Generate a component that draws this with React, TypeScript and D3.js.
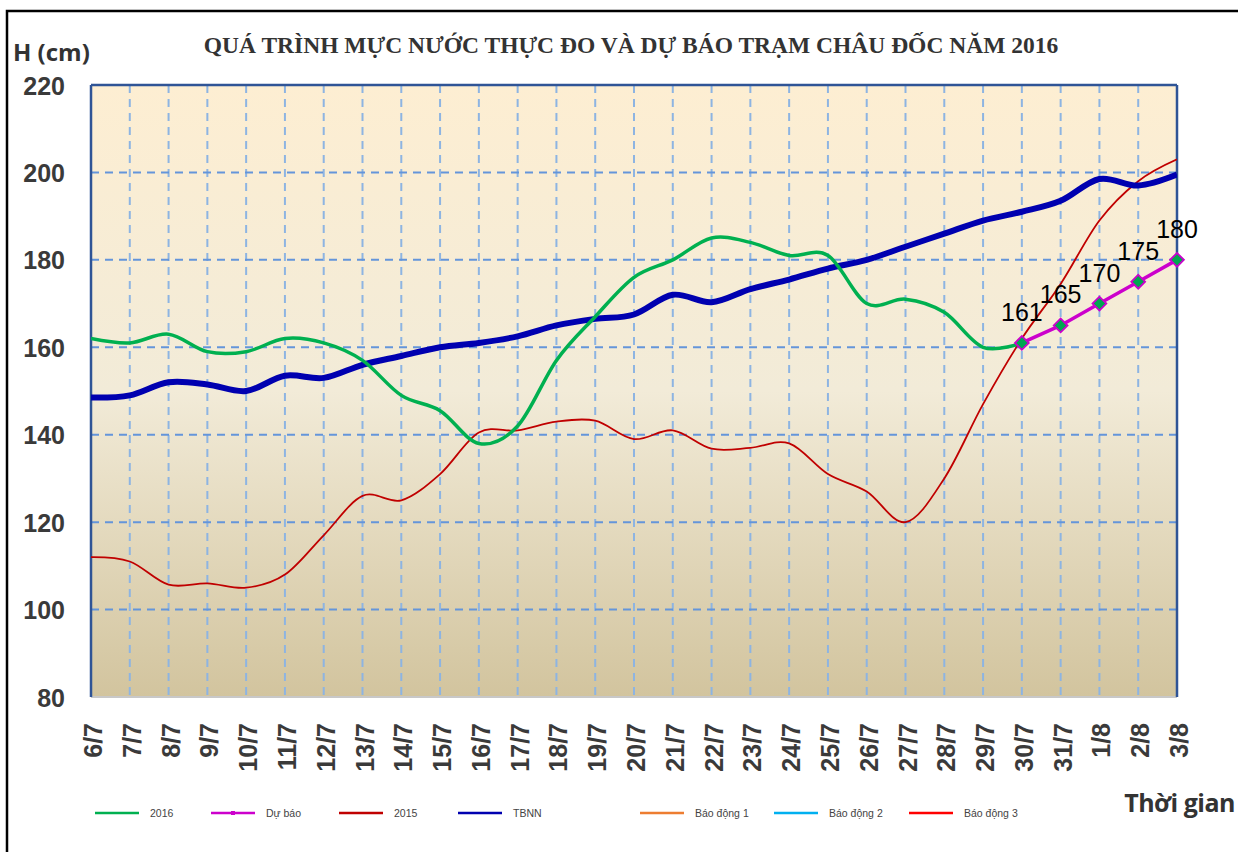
import React from "react"
import * as d3 from "d3"

// dates on the x axis
const dates = [
  "6/7", "7/7", "8/7", "9/7", "10/7", "11/7", "12/7", "13/7", "14/7", "15/7",
  "16/7", "17/7", "18/7", "19/7", "20/7", "21/7", "22/7", "23/7", "24/7", "25/7",
  "26/7", "27/7", "28/7", "29/7", "30/7", "31/7", "1/8", "2/8", "3/8",
]

// measured 2016 (6/7 .. 30/7)
const obs2016 = [
  162, 161, 163, 159, 159, 162, 161, 157, 149, 145.5,
  138, 142, 157, 167, 176, 180, 185, 184, 181, 181,
  170, 171, 168, 160, 161,
]

// forecast (30/7 .. 3/8)
const forecastDates = ["30/7", "31/7", "1/8", "2/8", "3/8"]
const forecast = [161, 165, 170, 175, 180]

const obs2015 = [
  112, 111, 105.7, 106, 105, 108, 117, 126, 125, 131,
  140.5, 141, 143, 143.2, 139, 141, 136.8, 137, 138, 131,
  127, 120, 130, 147, 162, 174.5, 189, 198, 203,
]

// TBNN (multi-year average)
const tbnn = [
  148.5, 149, 152, 151.5, 150, 153.5, 153, 156, 158, 160,
  161, 162.5, 165, 166.5, 167.5, 172, 170.3, 173.3, 175.5, 178,
  180, 183, 186, 189, 191, 193.5, 198.5, 197, 199.5,
]

const yTicks = [80, 100, 120, 140, 160, 180, 200, 220]

const legendNames = ["2016", "Dự báo", "2015", "TBNN", "Báo động 1", "Báo động 2", "Báo động 3"]
const legendColors = ["#00B050", "#CC00CC", "#C00000", "#0000B0", "#ED7D31", "#00B0F0", "#FF0000"]
const legendX = [95, 211, 339, 458, 640, 774, 909]

const W = 1238
const H = 852
const margin = { top: 85, right: 61, bottom: 155, left: 91 }

export default function App() {
  const x = d3.scalePoint<string>().domain(dates).range([margin.left, W - margin.right])
  const y = d3.scaleLinear().domain([80, 220]).range([H - margin.bottom, margin.top])

  const smooth = d3.line<[string, number]>()
    .x(d => x(d[0]) as number)
    .y(d => y(d[1]))
    .curve(d3.curveCardinal.tension(0))

  const straight = d3.line<[string, number]>()
    .x(d => x(d[0]) as number)
    .y(d => y(d[1]))

  const pairs = (vals: number[], keys: string[] = dates) =>
    vals.map((v, i) => [keys[i], v] as [string, number])

  // square turned 45 degrees, like the Excel diamond marker
  const marker = d3.symbol().type(d3.symbolSquare).size(95)()

  const x0 = margin.left
  const x1 = W - margin.right
  const y0 = margin.top
  const y1 = H - margin.bottom

  return (
    <svg width={W} height={H} style={{ position: "absolute", left: 0, top: 0, background: "#fff" }}>
      <defs>
        <linearGradient id="bg" x1="0" y1="0" x2="0" y2="1">
          <stop offset="0" stopColor="#FDEED2" />
          <stop offset="0.5" stopColor="#F2EBD8" />
          <stop offset="1" stopColor="#D2C49E" />
        </linearGradient>
        <clipPath id="plot">
          <rect x={x0} y={y0} width={x1 - x0} height={y1 - y0} />
        </clipPath>
      </defs>

      {/* outer frame */}
      <rect x={7} y={11} width={W + 20} height={H + 20} fill="none" stroke="#000" strokeWidth={2.5} />

      <text x={631} y={53} textAnchor="middle" fontFamily="'Liberation Serif', 'Times New Roman', serif"
        fontWeight="bold" fontSize={23.5} fill="#333">
        QUÁ TRÌNH MỰC NƯỚC THỰC ĐO VÀ DỰ BÁO TRẠM CHÂU ĐỐC  NĂM 2016
      </text>
      <text x={13} y={61} fontFamily="'Open Sans', sans-serif" fontWeight="bold" fontSize={24} fill="#333">
        H (cm)
      </text>

      <rect x={x0} y={y0} width={x1 - x0} height={y1 - y0} fill="url(#bg)" />

      {/* grid */}
      {dates.slice(1, -1).map(d => (
        <line key={d} x1={x(d)} x2={x(d)} y1={y0} y2={y1} stroke="#8DB4E2" strokeWidth={2} strokeDasharray="8,6" />
      ))}
      {yTicks.slice(1, -1).map(t => (
        <line key={t} x1={x0} x2={x1} y1={y(t)} y2={y(t)} stroke="#6495DA" strokeWidth={2} strokeDasharray="8,6" />
      ))}

      {/* plot border */}
      <line x1={x0} x2={x1} y1={y1} y2={y1} stroke="#C8C8C8" strokeWidth={2} />
      <line x1={x0} x2={x1} y1={y0} y2={y0} stroke="#2F5496" strokeWidth={2.5} />
      <line x1={x0} x2={x0} y1={y0} y2={y1} stroke="#2F5496" strokeWidth={2.5} />
      <line x1={x1} x2={x1} y1={y0} y2={y1} stroke="#2F5496" strokeWidth={2.5} />

      <g clipPath="url(#plot)" fill="none">
        <path d={smooth(pairs(obs2015)) || ""} stroke="#C00000" strokeWidth={1.8} />
        <path d={smooth(pairs(tbnn)) || ""} stroke="#0000B0" strokeWidth={6} />
        <path d={smooth(pairs(obs2016)) || ""} stroke="#00B050" strokeWidth={3.5} />
      </g>
      <path d={straight(pairs(forecast, forecastDates)) || ""} fill="none" stroke="#CC00CC" strokeWidth={3.5} />
      {forecast.map((v, i) => (
        <g key={i} transform={`translate(${x(forecastDates[i])},${y(v)})`}>
          <path d={marker || ""} transform="rotate(45)" fill="#00A650" stroke="#CC00CC" strokeWidth={1.8} />
          <text y={-22} textAnchor="middle" fontFamily="'Liberation Sans', Arial, sans-serif" fontSize={25} fill="#000">
            {v}
          </text>
        </g>
      ))}

      {/* y axis labels */}
      {yTicks.map(t => (
        <text key={t} x={65} y={y(t) + 3} textAnchor="end" dominantBaseline="middle"
          fontFamily="'Liberation Sans', Arial, sans-serif" fontWeight="bold" fontSize={25} fill="#3A3A3A">
          {t}
        </text>
      ))}

      {/* x axis labels */}
      {dates.map(d => (
        <text key={d} transform={`translate(${(x(d) as number) + 2},723) rotate(-90)`} textAnchor="end"
          dominantBaseline="central" fontFamily="'Liberation Sans', Arial, sans-serif" fontWeight="bold"
          fontSize={25} fill="#3A3A3A">
          {d}
        </text>
      ))}

      <text x={1235} y={812} textAnchor="end" fontFamily="'Open Sans', sans-serif" fontWeight="bold"
        fontSize={25} fill="#333" letterSpacing={-0.5}>
        Thời gian
      </text>

      {/* legend */}
      {legendNames.map((n, i) => (
        <g key={n} transform={`translate(${legendX[i]},813)`}>
          <line x1={0} x2={44} y1={0} y2={0} stroke={legendColors[i]} strokeWidth={2.5} />
          {i === 1 && <rect x={20} y={-2} width={4} height={4} fill="#CC00CC" />}
          <text x={55} y={4} fontFamily="'Liberation Sans', Arial, sans-serif" fontSize={10.5} fill="#444">
            {n}
          </text>
        </g>
      ))}
    </svg>
  )
}
